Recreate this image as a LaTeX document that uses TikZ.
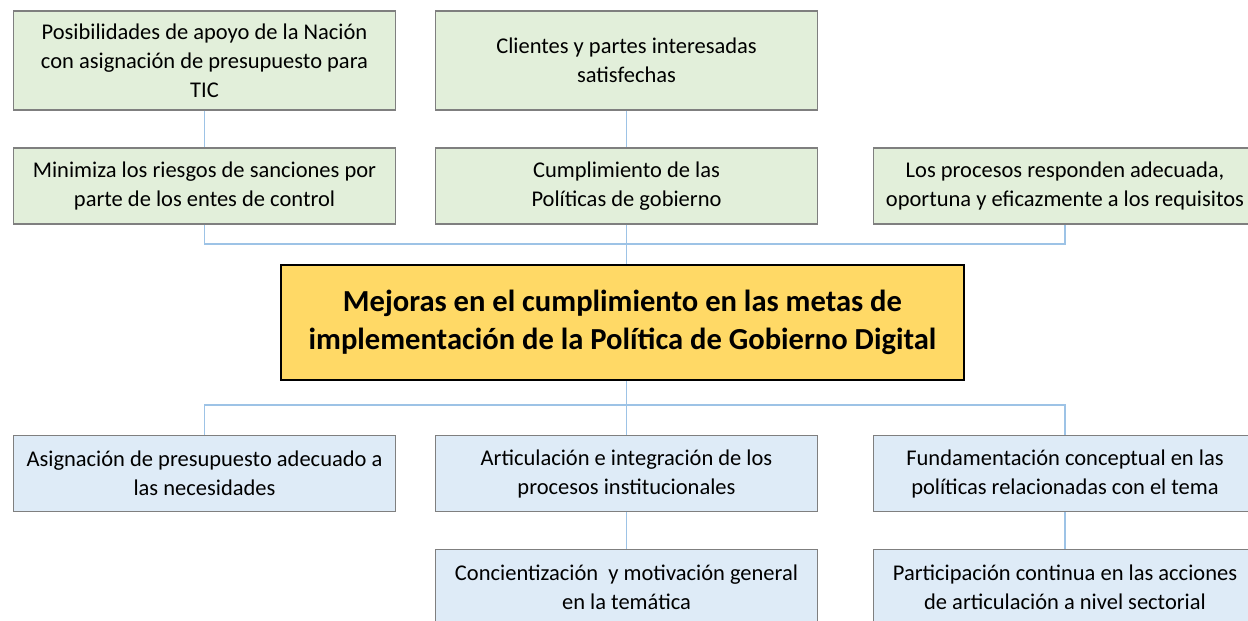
\documentclass[tikz,border=0pt]{standalone}
\usepackage{fontspec}
\setmainfont{Carlito}
\usepackage{xcolor}
\usepackage{tikz}
\definecolor{leafgreen}{HTML}{E2EFDA}
\definecolor{leafblue}{HTML}{DEEBF7}
\definecolor{boxgray}{HTML}{7F7F7F}
\definecolor{linkblue}{HTML}{9DC3E6}
\definecolor{goalyellow}{HTML}{FFD966}
\usetikzlibrary{positioning, calc}

\begin{document}
\begin{tikzpicture}[
    x=0.02cm, y=-0.02cm,
    effect/.style={rectangle, draw=boxgray, fill=leafgreen, line width=0.6pt, minimum width=7.66cm, minimum height=1.52cm, align=center, inner sep=0pt, font=\fontsize{12.8}{16.5}\selectfont},
    cause/.style={effect, fill=leafblue},
    goal/.style={rectangle, draw=black, fill=goalyellow, line width=1.1pt, minimum width=13.66cm, minimum height=2.3cm, align=center, font=\fontsize{17.4}{21.5}\selectfont\bfseries},
    link/.style={draw=linkblue, line width=0.8pt}
]
    \useasboundingbox (0,0) rectangle (1248,620);

    % Effects (upper part)
    \node[effect, minimum height=1.98cm] (apoyo) at (204.5,60.5) {Posibilidades de apoyo de la Nación\\con asignación de presupuesto para\\TIC};
    \node[effect, minimum height=1.98cm] (clientes) at (626.5,60.5) {Clientes y partes interesadas\\satisfechas};
    \node[effect] (riesgos) at (204.5,186) {Minimiza los riesgos de sanciones por\\parte de los entes de control};
    \node[effect] (politicas) at (626.5,186) {Cumplimiento de las\\Políticas de gobierno};
    \node[effect] (procesos) at (1065,186) {Los procesos responden adecuada,\\oportuna y eficazmente a los requisitos};

    % Central goal
    \node[goal] (meta) at (622.5,322.5) {Mejoras en el cumplimiento en las metas de\\implementación de la Política de Gobierno Digital};

    % Causes (lower part)
    \node[cause] (presupuesto) at (204.5,473.5) {Asignación de presupuesto adecuado a\\las necesidades};
    \node[cause] (articulacion) at (626.5,473.5) {Articulación e integración de los\\procesos institucionales};
    \node[cause] (fundamento) at (1065,473.5) {Fundamentación conceptual en las\\políticas relacionadas con el tema};
    \node[cause] (conciencia) at (626.5,587.5) {Concientización\ \ y motivación general\\en la temática};
    \node[cause] (participa) at (1065,587.5) {Participación continua en las acciones\\de articulación a nivel sectorial};

    % Links
    \coordinate (bustop) at (626.5,244);
    \coordinate (busbot) at (626.5,405);
    \draw[link] (apoyo) -- (riesgos);
    \draw[link] (clientes) -- (politicas);
    \draw[link] (riesgos.south) |- (bustop) -| (procesos.south);
    \draw[link] (politicas.south) -- (politicas.south |- meta.north);
    \draw[link] (articulacion.north |- meta.south) -- (articulacion.north);
    \draw[link] (presupuesto.north) |- (busbot) -| (fundamento.north);
    \draw[link] (articulacion) -- (conciencia);
    \draw[link] (fundamento) -- (participa);

\end{tikzpicture}
\end{document}
